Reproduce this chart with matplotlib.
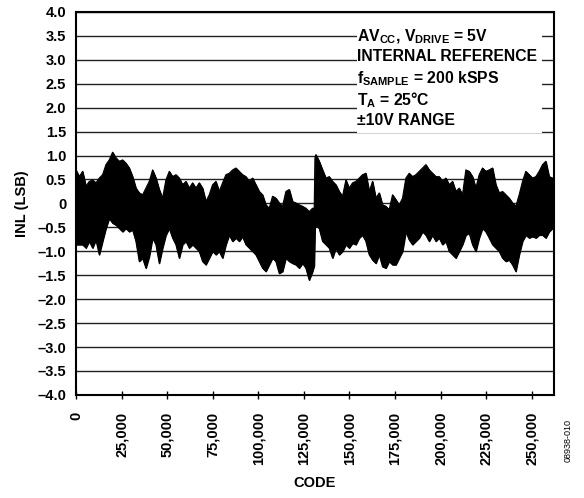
import matplotlib
matplotlib.use("Agg")
import matplotlib.pyplot as plt
from matplotlib.patches import Rectangle
import numpy as np

plt.rcParams['font.family'] = ['Liberation Sans', 'DejaVu Sans']
plt.rcParams['font.weight'] = 'bold'
plt.rcParams['mathtext.fontset'] = 'custom'
plt.rcParams['mathtext.rm'] = 'Liberation Sans:bold'
plt.rcParams['mathtext.bf'] = 'Liberation Sans:bold'
plt.rcParams['mathtext.default'] = 'bf'

# INL envelope (code, max INL, min INL)
codes = [
    0, 1830, 3650, 5480, 7310, 9140, 10960, 12790, 14620, 16450, 18270, 20100,
    21930, 23760, 25580, 27410, 29240, 31060, 32890, 34720, 36550, 38370, 40200,
    42030, 43860, 45680, 47510, 49340, 51170, 52990, 54820, 56650, 58470, 60300,
    62130, 63960, 65780,
    67610, 69430, 71260, 73090, 74920, 76740, 78570, 80400, 82230, 84050, 85880,
    87710, 89540, 91360, 93190, 95020, 96840, 98670, 100500, 102330, 104150,
    105980, 107810, 109640, 111460, 113290, 115120, 116950, 118770, 120600,
    122430, 124260, 126080, 127910, 129740, 130650, 131072,
    131570, 133400, 135230, 137050, 138880, 140710, 142540, 144360, 146190,
    148020, 149840, 151670, 153500, 155330, 157150, 158980, 160810, 162640,
    164460, 166290, 168120, 169950, 171770, 173600, 175430, 177260, 179080,
    180910, 182740, 184560, 186390, 188220, 190050, 191870, 193700, 195530, 197360,
    199180, 201010, 202840, 204670, 206490, 208320, 210150, 211970, 213800,
    215630, 217460, 219280, 221110, 222940, 224770, 226590, 228420, 230250,
    232080, 233900, 235730, 237560, 239380, 241210, 243040, 244870, 246690,
    248520, 250350, 252180, 254000, 255830, 257660, 259490, 261310, 262143,
]
inl_max = [
    0.70, 0.56, 0.67, 0.36, 0.46, 0.49, 0.43, 0.53, 0.60, 0.81, 0.91, 1.07,
    0.95, 0.88, 0.91, 0.84, 0.74, 0.56, 0.32, 0.22, 0.18, 0.32, 0.46, 0.70,
    0.53, 0.29, 0.11, 0.49, 0.67, 0.56, 0.60, 0.53, 0.39, 0.46, 0.32, 0.43, 0.32,
    0.43, 0.32, 0.04, 0.18, 0.39, 0.46, 0.25, 0.43, 0.60, 0.63, 0.70, 0.74,
    0.67, 0.60, 0.56, 0.46, 0.53, 0.39, 0.25, 0.18, -0.03, -0.10, 0.15, 0.11,
    0.01, -0.06, 0.25, 0.29, 0.04, 0.01, -0.03, -0.06, -0.10, -0.17, -0.10,
    -0.10, 0.95,
    1.02, 0.88, 0.70, 0.53, 0.56, 0.46, 0.39, 0.25, 0.15, 0.49, 0.32, 0.43,
    0.46, 0.53, 0.60, 0.63, 0.25, 0.46, 0.11, 0.22, -0.03, -0.06, -0.13, 0.18,
    0.08, -0.03, 0.11, 0.53, 0.63, 0.56, 0.60, 0.67, 0.74, 0.81, 0.70, 0.63, 0.56,
    0.56, 0.46, 0.53, 0.39, 0.46, 0.25, 0.32, 0.18, 0.70, 0.67, 0.56, 0.32,
    0.60, 0.74, 0.67, 0.70, 0.74, 0.39, 0.22, 0.25, 0.18, 0.11, 0.01, -0.06,
    0.18, 0.46, 0.67, 0.60, 0.53, 0.56, 0.67, 0.81, 0.88, 0.56, 0.53, 0.50,
]
inl_min = [
    -0.86, -0.86, -0.86, -0.93, -0.79, -0.93, -0.76, -1.07, -0.79, -0.52, -0.31,
    -0.41, -0.45, -0.52, -0.59, -0.52, -0.59, -0.55, -0.79, -1.21, -1.14, -1.35,
    -1.11, -0.72, -0.86, -1.25, -0.93, -0.66, -0.52, -0.72, -0.86, -1.14, -0.86,
    -0.79, -0.93, -0.86, -0.93,
    -1.00, -1.21, -1.28, -1.14, -1.00, -1.07, -1.00, -1.14, -0.86, -0.66, -0.79,
    -0.72, -0.79, -0.69, -0.86, -0.93, -1.00, -1.07, -1.21, -1.35, -1.42, -1.28,
    -1.14, -1.21, -1.46, -1.42, -1.14, -1.21, -1.25, -1.28, -1.35, -1.25, -1.35,
    -1.60, -1.42, -1.30, -0.50,
    -0.45, -0.52, -0.79, -0.86, -0.93, -1.14, -0.93, -1.07, -1.00, -0.86, -0.93,
    -0.83, -0.86, -0.72, -0.66, -0.79, -1.07, -1.18, -1.25, -1.07, -1.32, -1.35,
    -1.21, -1.28, -1.28, -1.14, -1.00, -0.59, -0.76, -0.86, -0.79, -0.72, -0.59,
    -0.66, -0.79, -0.66, -0.79,
    -0.72, -0.86, -0.79, -1.00, -1.07, -1.14, -1.00, -0.86, -0.66, -0.62, -0.86,
    -1.00, -0.72, -0.52, -0.59, -0.72, -0.86, -0.93, -1.00, -1.14, -1.21, -1.18,
    -1.28, -1.42, -1.07, -0.79, -0.66, -0.72, -0.69, -0.72, -0.66, -0.66, -0.72,
    -0.59, -0.52, -0.55,
]

y_ticks = [4.0, 3.5, 3.0, 2.5, 2.0, 1.5, 1.0, 0.5, 0, -0.5, -1.0, -1.5, -2.0,
           -2.5, -3.0, -3.5, -4.0]
y_labels = ['4.0', '3.5', '3.0', '2.5', '2.0', '1.5', '1.0', '0.5', '0', '–0.5',
            '–1.0', '–1.5', '–2.0', '–2.5', '–3.0', '–3.5', '–4.0']
x_ticks = [0, 25000, 50000, 75000, 100000, 125000, 150000, 175000, 200000,
           225000, 250000]
x_labels = ['0', '25,000', '50,000', '75,000', '100,000', '125,000', '150,000',
            '175,000', '200,000', '225,000', '250,000']

notes = ['AV$_{CC}$, V$_{DRIVE}$ = 5V',
         'INTERNAL REFERENCE',
         'f$_{SAMPLE}$ = 200 kSPS',
         'T$_{A}$ = 25°C',
         '±10V RANGE']

fig = plt.figure(figsize=(5.84, 4.98), dpi=100)
ax = fig.add_axes([0.130, 0.207, 0.8186, 0.769])

for yv in y_ticks:
    ax.axhline(yv, color='#222222', lw=1.0, zorder=1)

# the measured band, edges traced so the spikes stay sharp
ax.fill_between(codes, inl_min, inl_max, color='black', lw=0.8, zorder=3)
ax.plot(codes, inl_max, color='black', lw=0.8, zorder=3)
ax.plot(codes, inl_min, color='black', lw=0.8, zorder=3)

# white panel behind the conditions text
ax.add_patch(Rectangle((0.588, 0.684), 0.387, 0.282, transform=ax.transAxes,
                       facecolor='white', edgecolor='none', zorder=4))
note_y = [37, 57, 79, 100, 121]
for txt, py in zip(notes, note_y):
    ax.text(0.588, (395 - py) / 383.0, txt, transform=ax.transAxes,
            fontsize=11.3, fontweight='bold', va='center', ha='left', zorder=5)

ax.set_xlim(0, 262143)
ax.set_ylim(-4.0, 4.0)
ax.set_yticks(y_ticks)
ax.set_yticklabels(y_labels, fontsize=10.5, fontweight='bold')
ax.set_xticks(x_ticks)
ax.set_xticklabels(x_labels, rotation=90, fontsize=10.5, fontweight='bold')
ax.tick_params(axis='y', length=0, pad=7)
ax.tick_params(axis='x', direction='inout', length=6, width=1.0, pad=9)
for s in ax.spines.values():
    s.set_linewidth(1.5)
    s.set_zorder(6)

ax.set_ylabel('INL (LSB)', fontsize=10.5, fontweight='bold', labelpad=6)
ax.set_xlabel('CODE', fontsize=10.5, fontweight='bold', labelpad=8)

fig.text(0.973, 0.115, '08938-010', rotation=90, fontsize=6.5,
         fontweight='normal', ha='center', va='center')

fig.savefig('out.png', dpi=100)
